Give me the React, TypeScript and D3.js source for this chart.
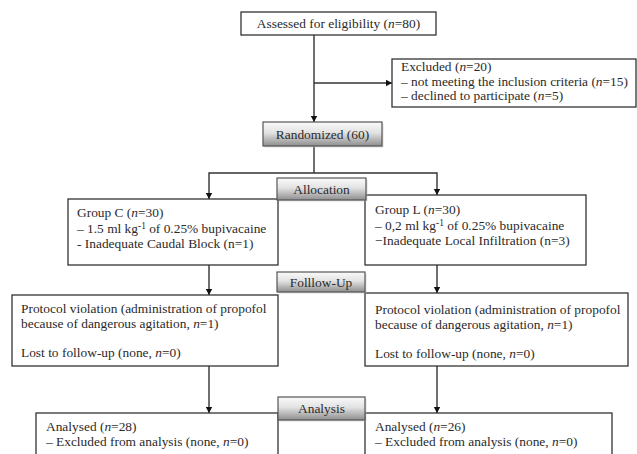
import React from "react";
import * as d3 from "d3";

// ---- Data (box texts) ----
const assessedLines = ["Assessed for eligibility (*n*=80)"];
const excludedLines = [
  "Excluded (*n*=20)",
  "– not meeting the inclusion criteria (*n*=15)",
  "– declined to participate (*n*=5)",
];
const randomizedLines = ["Randomized (60)"];
const stageLabels = ["Allocation", "Folllow-Up", "Analysis"];
const groupCLines = [
  "Group C (*n*=30)",
  "– 1.5 ml kg^-1^ of 0.25% bupivacaine",
  "- Inadequate Caudal Block (n=1)",
];
const groupLLines = [
  "Group L (*n*=30)",
  "– 0,2 ml kg^-1^ of 0.25% bupivacaine",
  "−Inadequate Local Infiltration (n=3)",
];
const followLines = [
  "Protocol violation (administration of propofol",
  "because of dangerous agitation, *n*=1)",
  "",
  "Lost to follow-up (none, *n*=0)",
];
const analysedCLines = ["Analysed (*n*=28)", "– Excluded from analysis (none, *n*=0)"];
const analysedLLines = ["Analysed (*n*=26)", "– Excluded from analysis (none, *n*=0)"];

const FONT = "Liberation Serif, Times New Roman, DejaVu Serif, serif";
const FS = 13.4;
const LINE = "#333";
const TEXT = "#2a2a2a";

function renderRich(s: string) {
  const parts: React.ReactNode[] = [];
  const re = /(\*[^*]+\*|\^[^^]+\^)/g;
  let last = 0;
  let m: RegExpExecArray | null;
  let k = 0;
  let afterSup = false;
  while ((m = re.exec(s))) {
    if (m.index > last) {
      parts.push(
        <tspan key={k++} dy={afterSup ? 4 : undefined}>
          {s.slice(last, m.index)}
        </tspan>
      );
      afterSup = false;
    }
    const t = m[0];
    if (t[0] === "*") {
      parts.push(
        <tspan key={k++} style={{ fontStyle: "italic" }} dy={afterSup ? 4 : undefined}>
          {t.slice(1, -1)}
        </tspan>
      );
      afterSup = false;
    } else {
      parts.push(
        <tspan key={k++} style={{ fontSize: FS * 0.7 }} dy={-4}>
          {t.slice(1, -1)}
        </tspan>
      );
      afterSup = true;
    }
    last = m.index + t.length;
  }
  if (last < s.length)
    parts.push(
      <tspan key={k++} dy={afterSup ? 4 : undefined}>
        {s.slice(last)}
      </tspan>
    );
  return parts;
}

type Box = { x: number; y: number; w: number; h: number };

function TextBlock({ lines, x, y, step, anchor = "start" }: { lines: string[]; x: number; y: number; step: number; anchor?: string }) {
  return (
    <g>
      {lines.map((l, i) => (
        <text key={i} x={x} y={y + i * step} fill={TEXT} textAnchor={anchor as any} style={{ fontFamily: FONT, fontSize: FS }}>
          {renderRich(l)}
        </text>
      ))}
    </g>
  );
}

function PlainBox({ b }: { b: Box }) {
  return <rect x={b.x} y={b.y} width={b.w} height={b.h} fill="#fff" stroke={LINE} strokeWidth={1.3} />;
}

function GradBox({ b, label }: { b: Box; label: string }) {
  return (
    <g>
      <rect x={b.x + 1.5} y={b.y + 1.5} width={b.w} height={b.h} fill="#bbb" opacity={0.5} />
      <rect x={b.x} y={b.y} width={b.w} height={b.h} fill="url(#gbox)" stroke="#555" strokeWidth={1.2} />
      <text x={b.x + b.w / 2} y={b.y + b.h / 2 + 4.5} fill={TEXT} textAnchor="middle" style={{ fontFamily: FONT, fontSize: FS }}>
        {label}
      </text>
    </g>
  );
}

export default function App() {
  const W = 637,
    H = 454;
  const line = d3.line<[number, number]>();

  const assessed: Box = { x: 241, y: 12, w: 195, h: 23 };
  const excluded: Box = { x: 392, y: 59, w: 244, h: 48 };
  const randomized: Box = { x: 263, y: 122, w: 119, h: 24 };
  const alloc: Box = { x: 277, y: 178, w: 89, h: 22 };
  const groupC: Box = { x: 68, y: 199, w: 210, h: 66 };
  const groupL: Box = { x: 365, y: 195, w: 221, h: 70 };
  const follow: Box = { x: 277, y: 272, w: 88, h: 20 };
  const protC: Box = { x: 12, y: 295, w: 266, h: 71 };
  const protL: Box = { x: 365, y: 293, w: 263, h: 73 };
  const analysis: Box = { x: 278, y: 397, w: 87, h: 23 };
  const anC: Box = { x: 36, y: 413, w: 242, h: 60 };
  const anL: Box = { x: 365, y: 413, w: 247, h: 60 };

  const xMid = 314;
  const xC = 209;
  const xL = 437;
  const ySplit = 173;

  const connectors: { pts: [number, number][]; arrow: "down" | "right" | null }[] = [
    { pts: [[xMid, assessed.y + assessed.h], [xMid, randomized.y]], arrow: "down" },
    { pts: [[xMid, 83], [excluded.x, 83]], arrow: "right" },
    { pts: [[xMid, randomized.y + randomized.h], [xMid, ySplit]], arrow: null },
    { pts: [[xC, groupC.y], [xC, ySplit], [xL, ySplit], [xL, groupL.y]], arrow: null },
    { pts: [[xC, groupC.y + groupC.h], [xC, protC.y]], arrow: "down" },
    { pts: [[xL, groupL.y + groupL.h], [xL, protL.y]], arrow: "down" },
    { pts: [[xC, protC.y + protC.h], [xC, anC.y]], arrow: "down" },
    { pts: [[xL, protL.y + protL.h], [xL, anL.y]], arrow: "down" },
  ];
  const extraArrows: [number, number][] = [
    [xC, groupC.y],
    [xL, groupL.y],
  ];

  const arrowDown = (x: number, y: number, k: string) => (
    <path key={k} d={`M${x - 3.2},${y - 6}L${x + 3.2},${y - 6}L${x},${y}Z`} fill="#111" />
  );
  const arrowRight = (x: number, y: number, k: string) => (
    <path key={k} d={`M${x - 6},${y - 3.2}L${x - 6},${y + 3.2}L${x},${y}Z`} fill="#111" />
  );

  return (
    <svg width={W} height={H} style={{ position: "absolute", left: 0, top: 0, background: "#fff", fontFamily: FONT }}>
      <defs>
        <linearGradient id="gbox" x1="0" y1="0" x2="0" y2="1">
          <stop offset="0" stopColor="#fafafa" />
          <stop offset="0.45" stopColor="#e2e2e2" />
          <stop offset="1" stopColor="#8e8e8e" />
        </linearGradient>
      </defs>
      <rect width={W} height={H} fill="#fff" />

      {connectors.map((c, i) => (
        <g key={i}>
          <path d={line(c.pts) || ""} fill="none" stroke={LINE} strokeWidth={1.4} />
          {c.arrow === "down" && arrowDown(c.pts[c.pts.length - 1][0], c.pts[c.pts.length - 1][1], "a" + i)}
          {c.arrow === "right" && arrowRight(c.pts[c.pts.length - 1][0], c.pts[c.pts.length - 1][1], "a" + i)}
        </g>
      ))}
      {extraArrows.map((p, i) => arrowDown(p[0], p[1], "e" + i))}

      <PlainBox b={assessed} />
      <TextBlock lines={assessedLines} x={assessed.x + assessed.w / 2} y={28} step={15} anchor="middle" />

      <PlainBox b={excluded} />
      <TextBlock lines={excludedLines} x={401} y={71} step={14.5} />

      <GradBox b={randomized} label={randomizedLines[0]} />

      <PlainBox b={groupC} />
      <TextBlock lines={groupCLines} x={77} y={217} step={15.5} />
      <PlainBox b={groupL} />
      <TextBlock lines={groupLLines} x={375} y={214} step={15.5} />
      <GradBox b={alloc} label={stageLabels[0]} />

      <PlainBox b={protC} />
      <TextBlock lines={followLines} x={21} y={313} step={14.5} />
      <PlainBox b={protL} />
      <TextBlock lines={followLines} x={375} y={314} step={14.5} />
      <GradBox b={follow} label={stageLabels[1]} />

      <PlainBox b={anC} />
      <TextBlock lines={analysedCLines} x={46} y={431} step={15} />
      <PlainBox b={anL} />
      <TextBlock lines={analysedLLines} x={375} y={431} step={15} />
      <GradBox b={analysis} label={stageLabels[2]} />
    </svg>
  );
}
